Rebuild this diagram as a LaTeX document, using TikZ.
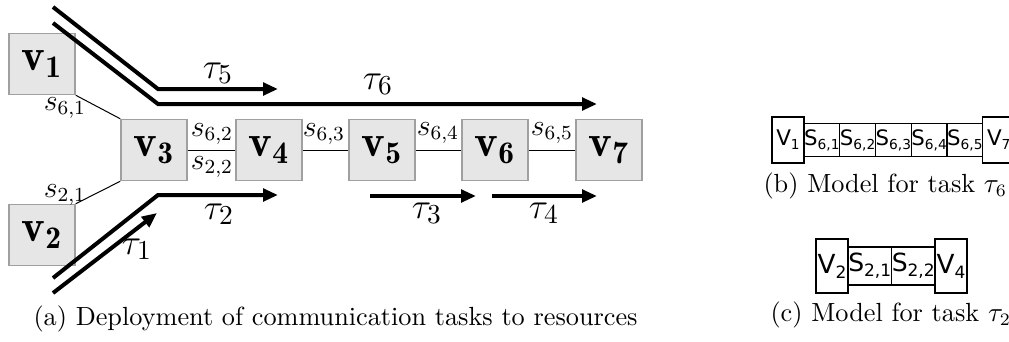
\documentclass[tikz,border=0pt]{standalone}
\usepackage{fontspec}
\newfontfamily\dejavu{DejaVu Sans}
\usetikzlibrary{arrows.meta}
\definecolor{boxfill}{HTML}{E6E6E6}
\definecolor{boxdraw}{HTML}{A0A0A0}
\newcommand\mlab[4]{{\dejavu\fontsize{#1}{#1}\selectfont #2\raisebox{-0.35ex}{\fontsize{#3}{#3}\selectfont #4}}}
\begin{document}
\begin{tikzpicture}[x=0.4pt,y=-0.4pt,
  vbox/.style={draw=boxdraw, fill=boxfill, line width=0.6pt, minimum width=26.4pt, minimum height=24.4pt, inner sep=0pt, font=\fontsize{18}{20}\selectfont},
  link/.style={line width=0.4pt, draw=black},
  task/.style={line width=1.6pt, -{Triangle[length=6pt,width=5pt]}},
  tlab/.style={font=\fontsize{15.5}{18}\selectfont, inner sep=0pt},
  slab/.style={font=\fontsize{12}{14}\selectfont, inner sep=0pt},
  captext/.style={font=\fontsize{10.5}{12}\selectfont, anchor=base west, inner sep=0pt},
  mbox/.style={draw, line width=0.5pt, inner sep=0pt, outer sep=0pt}]
\useasboundingbox (0,0) rectangle (1009,341);
% main nodes
\node[vbox] (v1) at (42,64) {$\mathbf{v_1}$};
\node[vbox] (v2) at (42,235) {$\mathbf{v_2}$};
\node[vbox] (v3) at (154,150) {$\mathbf{v_3}$};
\node[vbox] (v4) at (269,150) {$\mathbf{v_4}$};
\node[vbox] (v5) at (382,150) {$\mathbf{v_5}$};
\node[vbox] (v6) at (495,150) {$\mathbf{v_6}$};
\node[vbox] (v7) at (609,150) {$\mathbf{v_7}$};
\draw[link] (v1.south east) -- (v3.north west);
\draw[link] (v2.north east) -- (v3.south west);
\draw[link] (v3) -- (v4);
\draw[link] (v4) -- (v5);
\draw[link] (v5) -- (v6);
\draw[link] (v6) -- (v7);
% segment labels
\node[slab] (l61) at (65,108) {$s_{6,1}$};
\node[slab] (l21) at (65,195) {$s_{2,1}$};
\node[slab] (l62) at (212,134) {$s_{6,2}$};
\node[slab] (l22) at (212,167) {$s_{2,2}$};
\node[slab] (l63) at (324,134) {$s_{6,3}$};
\node[slab] (l64) at (438,133) {$s_{6,4}$};
\node[slab] (l65) at (552,133) {$s_{6,5}$};
% task arrows
\coordinate (t5a) at (53,7); \coordinate (t5b) at (158,89); \coordinate (t5c) at (278,89);
\coordinate (t6a) at (53,23); \coordinate (t6b) at (158,104); \coordinate (t6c) at (597,104);
\coordinate (t2a) at (53,278); \coordinate (t2b) at (158,195); \coordinate (t2c) at (278,195);
\coordinate (t1a) at (53,293); \coordinate (t1b) at (157,213);
\coordinate (t3a) at (370,196); \coordinate (t3b) at (476,196);
\coordinate (t4a) at (492,196); \coordinate (t4b) at (597,196);
\draw[task] (t5a) -- (t5b) -- (t5c);
\draw[task] (t6a) -- (t6b) -- (t6c);
\draw[task] (t2a) -- (t2b) -- (t2c);
\draw[task] (t1a) -- (t1b);
\draw[task] (t3a) -- (t3b);
\draw[task] (t4a) -- (t4b);
\node[tlab] (n5) at (218,73) {$\tau_5$};
\node[tlab] (n6) at (378,84) {$\tau_6$};
\node[tlab] (n2) at (219,214) {$\tau_2$};
\node[tlab] (n1) at (137,249) {$\tau_1$};
\node[tlab] (n3) at (427,213) {$\tau_3$};
\node[tlab] (n4) at (544,213) {$\tau_4$};
\node[captext] (capa) at (33,325) {(a) Deployment of communication tasks to resources};
% model b
\node[mbox, minimum width=12.8pt, minimum height=18.4pt] (b1) at (788,140) {\mlab{8.6}{V}{5.5}{1}};
\node[mbox, minimum width=14.3pt, minimum height=13.2pt, anchor=west] (bs1) at (b1.east) {\mlab{8.5}{S}{5.5}{6,1}};
\node[mbox, minimum width=14.3pt, minimum height=13.2pt, anchor=west] (bs2) at (bs1.east) {\mlab{8.5}{S}{5.5}{6,2}};
\node[mbox, minimum width=14.3pt, minimum height=13.2pt, anchor=west] (bs3) at (bs2.east) {\mlab{8.5}{S}{5.5}{6,3}};
\node[mbox, minimum width=14.3pt, minimum height=13.2pt, anchor=west] (bs4) at (bs3.east) {\mlab{8.5}{S}{5.5}{6,4}};
\node[mbox, minimum width=14.3pt, minimum height=13.2pt, anchor=west] (bs5) at (bs4.east) {\mlab{8.5}{S}{5.5}{6,5}};
\node[mbox, minimum width=12.8pt, minimum height=18.4pt, anchor=west] (b7) at (bs5.east) {\mlab{8.6}{V}{5.5}{7}};
\node[captext] (capb) at (763,192) {(b) Model for task $\tau_6$};
% model c
\node[mbox, minimum width=12.8pt, minimum height=21.6pt] (c2) at (832,266) {\mlab{10.5}{V}{6.8}{2}};
\node[mbox, minimum width=17.4pt, minimum height=15.2pt, anchor=west] (cs1) at (c2.east) {\mlab{10}{S}{6.8}{2,1}};
\node[mbox, minimum width=17.4pt, minimum height=15.2pt, anchor=west] (cs2) at (cs1.east) {\mlab{10}{S}{6.8}{2,2}};
\node[mbox, minimum width=12.8pt, minimum height=21.6pt, anchor=west] (c4) at (cs2.east) {\mlab{10.5}{V}{6.8}{4}};
\node[captext] (capc) at (770,321) {(c) Model for task $\tau_2$};
\end{tikzpicture}
\end{document}
